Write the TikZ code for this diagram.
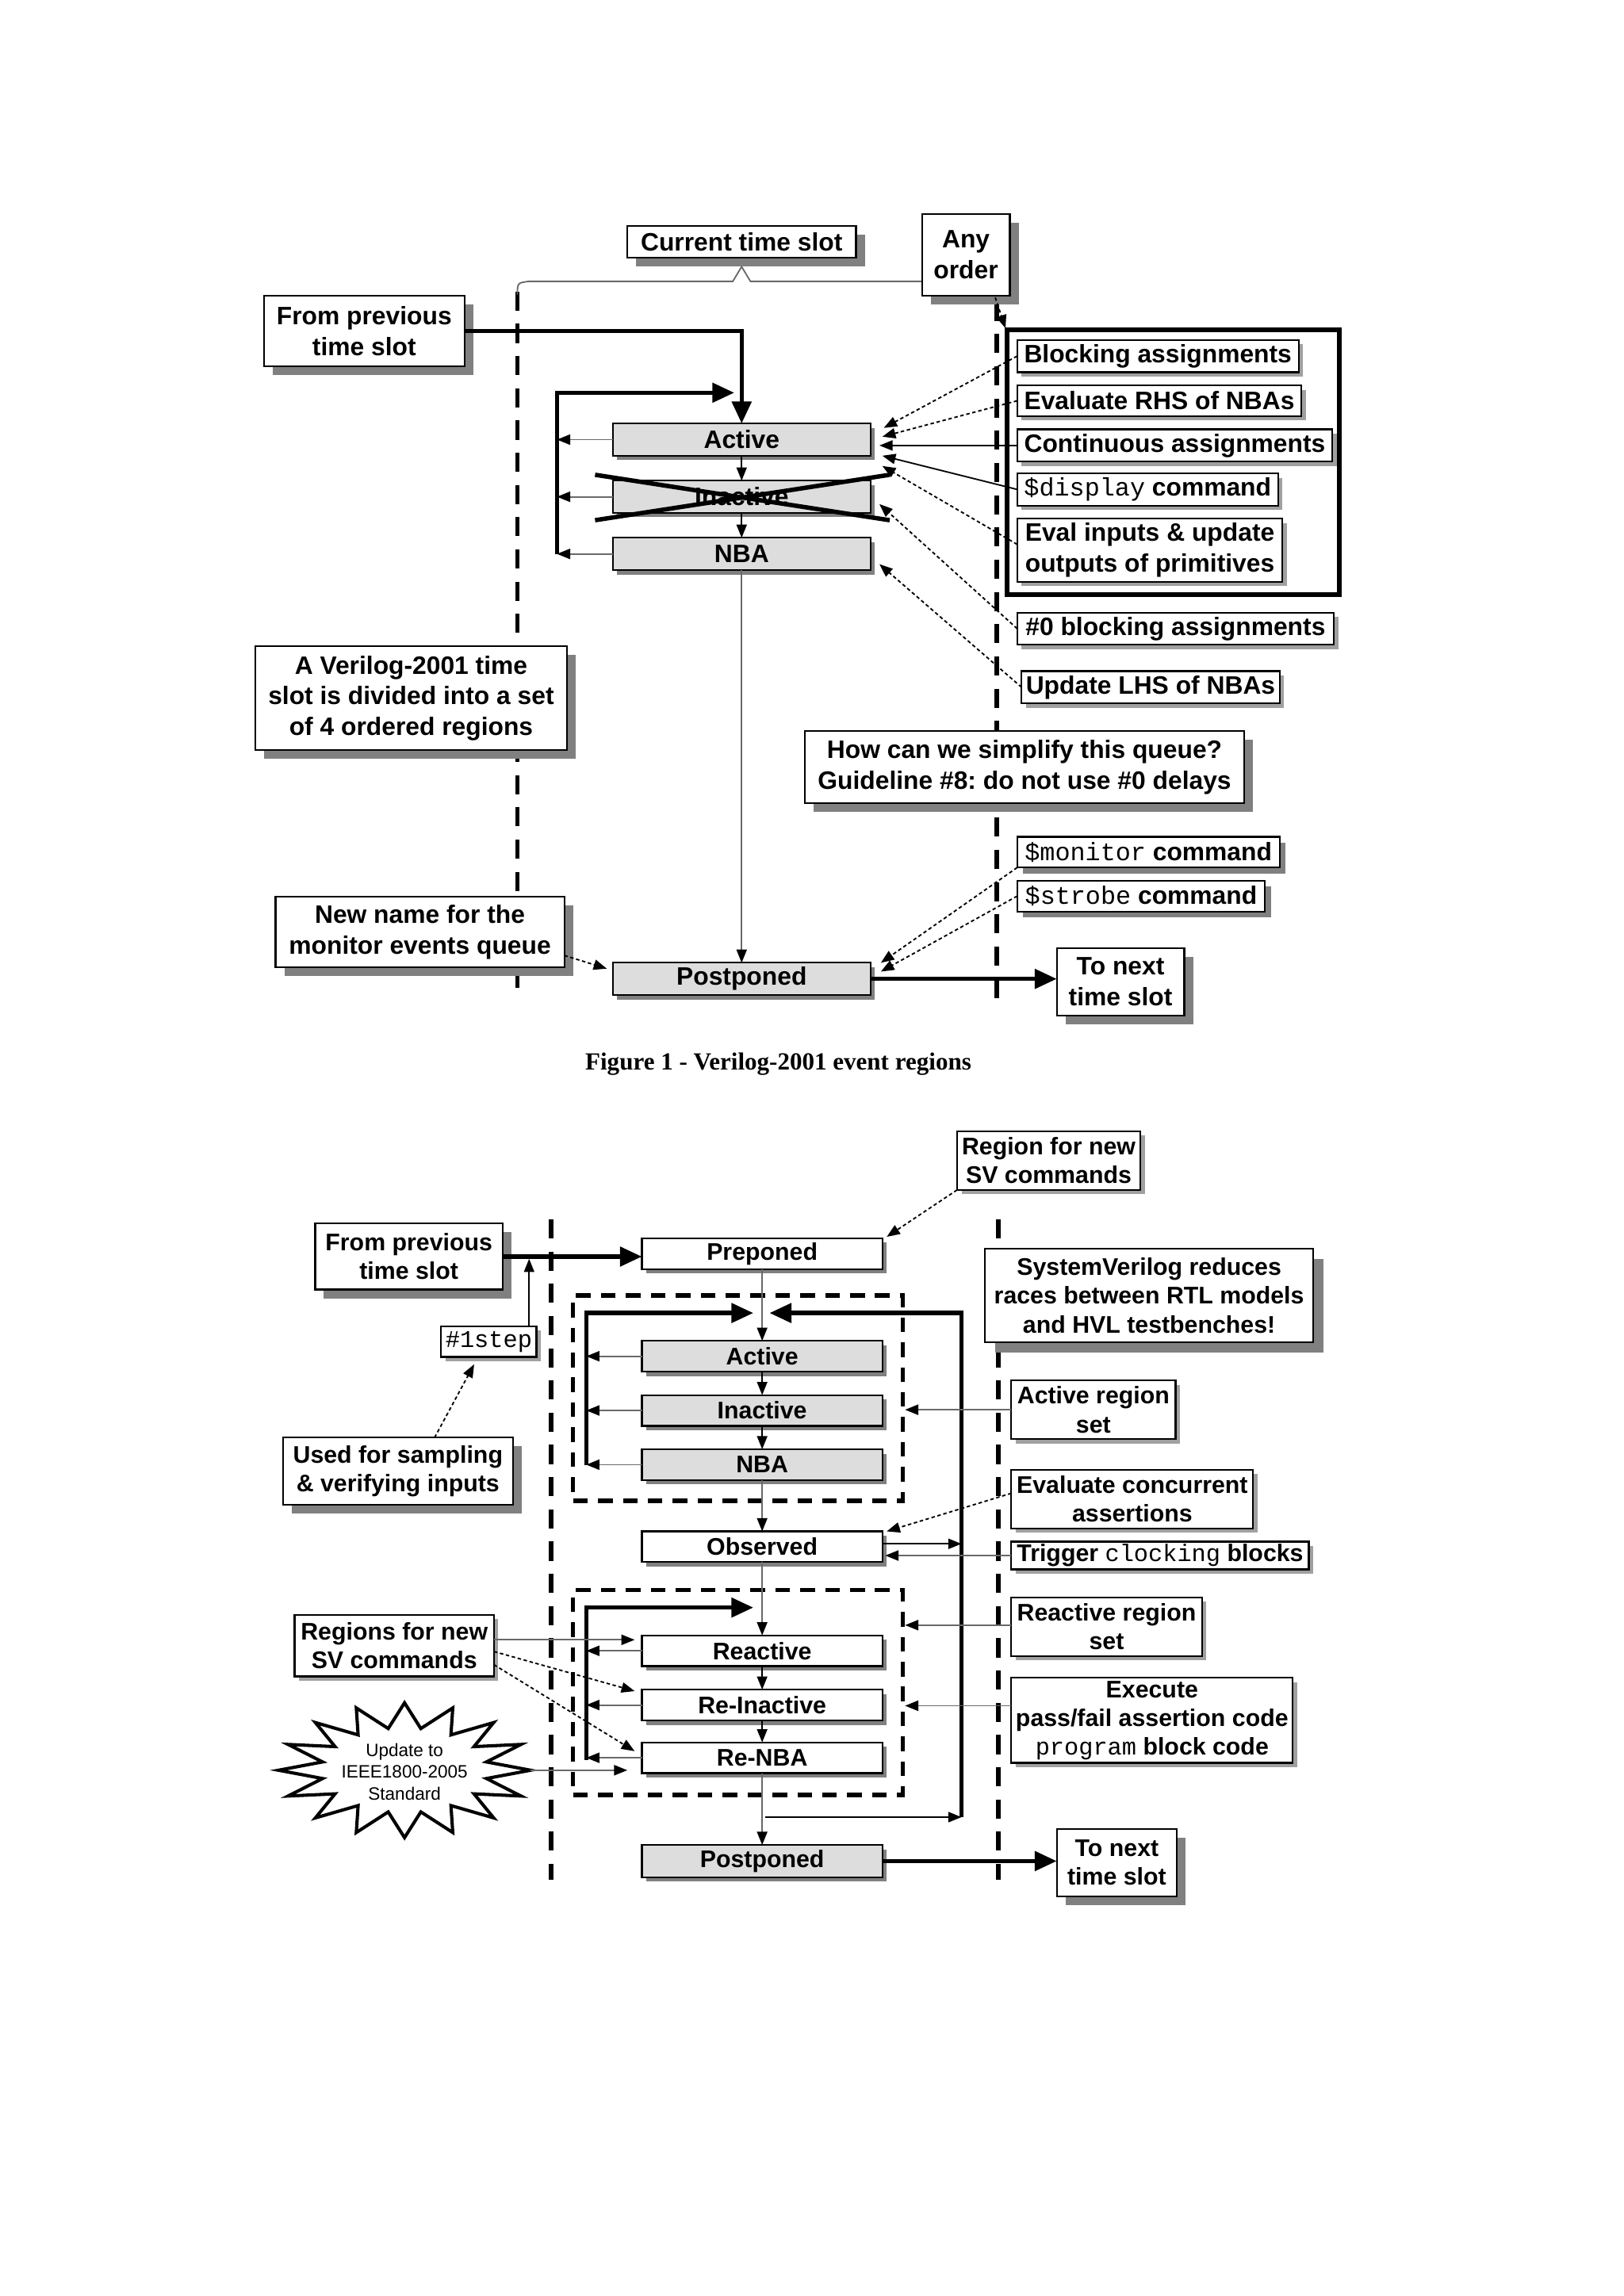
\documentclass[tikz,border=0pt]{standalone}
\usepackage{fontspec}
\setmainfont{Liberation Sans}
\newfontfamily\mono{Liberation Mono}
\newfontfamily\serifcap{Liberation Serif}
\usetikzlibrary{arrows.meta,fit,calc}
\frenchspacing
\definecolor{regfill}{RGB}{221,221,221}
\definecolor{shdark}{RGB}{128,128,128}
\definecolor{shlight}{RGB}{160,160,160}
\definecolor{lgray}{RGB}{105,105,105}
\newcommand\fa{\fontsize{8.6}{10.5}\selectfont\bfseries}
\newcommand\fb{\fontsize{8.2}{9.8}\selectfont\bfseries}
\newcommand\mt[1]{{\mono\mdseries #1}}
% style, shadow offset, shadow colour, name, x1, y1, x2, y2, text
\newcommand\bx[9]{%
  \fill[#3] (#5+#2,#6+#2) rectangle (#7+#2,#8+#2);
  \pgfmathsetmacro\bxw{(#7-#5)*0.5}%
  \pgfmathsetmacro\bxh{(#8-#6)*0.5}%
  \node[#1, minimum width=\bxw pt, minimum height=\bxh pt] (#4) at ({(#5+#7)/2},{(#6+#8)/2}) {#9};
}
\tikzset{
  bxs/.style={draw, line width=0.6pt, fill=white, inner sep=0pt, outer sep=0pt, align=center},
  ta/.style={bxs, font=\fa},
  tr/.style={ta, fill=regfill},
  tb/.style={bxs, font=\fb},
  rb/.style={tb, fill=regfill},
  big/.style={line width=1.5pt, -{Triangle[length=7.5pt,width=6.5pt]}},
  sm/.style={line width=0.5pt, -{Triangle[length=4.5pt,width=3.5pt]}},
  smg/.style={line width=0.5pt, lgray, -{Triangle[length=4.5pt,width=3.5pt,color=black]}},
  dt/.style={sm, dash pattern=on 1.2pt off 0.9pt},
  vd/.style={line width=1.6pt, dash pattern=on 6.5pt off 4.5pt},
  rd/.style={line width=1.5pt, dash pattern=on 5pt off 3.5pt},
}
\begin{document}
\begin{tikzpicture}[x=0.5pt,y=-0.5pt]
\useasboundingbox (0,0) rectangle (1108,1566.8);
% ================= TOP FIGURE =================
\draw[vd] (353,199) -- (353,681);
\draw[vd] (680,206) -- (680,681);
\draw[line width=0.5pt, lgray] (353,201) .. controls (353,193) .. (361,192) -- (500,192) -- (506,182) -- (512,192) -- (629,192);

\bx{ta}{6}{shdark}{cts}{428}{154}{584}{176}{Current time slot}
\bx{ta}{6}{shdark}{anyo}{629}{146}{689}{202}{Any\\order}
\bx{ta}{6}{shdark}{fprev}{180}{202}{317}{250}{From previous\\time slot}

\node[draw, line width=1.6pt, inner sep=0pt, fit={(687,225) (914,406)}] (anyset) {};
\bx{ta}{3}{shlight}{blk}{694}{232}{886}{254}{Blocking assignments}
\bx{ta}{3}{shlight}{rhs}{694}{263}{888}{284}{Evaluate RHS of NBAs}
\bx{ta}{3}{shlight}{cont}{694}{293}{909}{315}{Continuous assignments}
\bx{ta}{3}{shlight}{disp}{694}{323}{872}{345}{\mt{\$display} command}
\bx{ta,align=left}{3}{shlight}{evin}{694}{354}{875}{397}{Eval inputs \& update\\outputs of primitives}
\bx{ta}{3}{shlight}{zero}{694}{418}{910}{440}{\#0 blocking assignments}
\bx{ta}{3}{shlight}{lhs}{697}{458}{873}{480}{Update LHS of NBAs}

\bx{tr}{3}{shdark}{act1}{418}{289}{594}{311}{Active}
\bx{tr}{3}{shdark}{inact1}{418}{328}{594}{350}{Inactive}
\bx{tr}{3}{shdark}{nba1}{418}{367}{594}{389}{NBA}
\bx{tr}{3}{shdark}{post1}{418}{657}{594}{679}{Postponed}
\bx{ta}{6}{shdark}{tnext1}{721}{647}{808}{693}{To next\\time slot}

\bx{ta}{6}{shdark}{v2001}{174}{441}{387}{512}{A Verilog-2001 time\\slot is divided into a set\\of 4 ordered regions}
\bx{ta}{6}{shdark}{how}{549}{499}{849}{548}{How can we simplify this queue?\\Guideline \#8: do not use \#0 delays}
\bx{ta}{4}{shdark}{mon}{694}{571}{873}{592}{\mt{\$monitor} command}
\bx{ta}{4}{shdark}{strb}{694}{601}{863}{622}{\mt{\$strobe} command}
\bx{ta}{6}{shdark}{newn}{188}{612}{385}{660}{New name for the\\monitor events queue}

% connectors top
\draw[big] (fprev.east) -| (act1.north);
\coordinate (l1b) at (380,378);
\coordinate (l1t) at (501,268);
\draw[big] (l1b) |- (l1t);
\draw[smg] (act1.west) -- (act1.west -| l1b);
\draw[smg] (inact1.west) -- (inact1.west -| l1b);
\draw[smg] (nba1.west) -- (nba1.west -| l1b);
\draw[sm] (act1.south) -- (inact1.north);
\draw[sm] (inact1.south) -- (nba1.north);
\draw[smg] (nba1.south) -- (post1.north);
\draw[line width=1.5pt] (406,324) -- (607,355);
\draw[line width=1.5pt] (406,355) -- (607,324);
\draw[big] (post1.east) -- (post1.east -| tnext1.west);
\draw[dt] (blk.west) -- (603,292);
\draw[dt] (rhs.west) -- (602,298);
\draw[sm] (cont.west) -- (600,304);
\draw[sm] (disp.west) -- (602,311);
\draw[dt] ($(evin.west)+(0,-4)$) -- (602,318);
\draw[dt] (zero.west) -- (600,344);
\draw[dt] (lhs.west) -- (600,385);
\draw[dt] (mon.south west) -- (601,657);
\draw[dt] (strb.west) -- (601,663);
\draw[dt] ($(newn.south east)+(0,-8)$) -- (414,661);
\draw[dt] ($(anyo.south east)+(-10,1)$) -- (686,224);

\node[font=\serifcap\bfseries\fontsize{8.4}{10}\selectfont] (cap1) at (531,726) {Figure 1 - Verilog-2001 event regions};

% ================= BOTTOM FIGURE =================
\draw[vd] (376,832) -- (376,1283);
\draw[vd] (681,832) -- (681,1283);

\bx{tb}{3}{shlight}{regn}{653}{772}{778}{812}{Region for new\\SV commands}
\bx{tb}{6}{shdark}{fprev2}{215}{835}{343}{880}{From previous\\time slot}
\bx{tb}{3}{shdark}{prep}{438}{845}{602}{866}{Preponed}
\bx{tb,font=\fontsize{8.2}{9.8}\selectfont\mono}{3}{shlight}{onestep}{301}{905}{366}{926}{\#1step}
\bx{tb}{6}{shdark}{used}{193}{981}{350}{1027}{Used for sampling\\\& verifying inputs}
\bx{tb}{7}{shdark}{svr}{672}{852}{896}{916}{SystemVerilog reduces\\races between RTL models\\and HVL testbenches!}

\node[draw, rd, inner sep=0pt, fit={(391,884) (616,1024)}] (rs1) {};
\node[draw, rd, inner sep=0pt, fit={(391,1085) (616,1225)}] (rs2) {};

\bx{rb}{3}{shdark}{act2}{438}{915}{602}{936}{Active}
\bx{rb}{3}{shdark}{inact2}{438}{952}{602}{973}{Inactive}
\bx{rb}{3}{shdark}{nba2}{438}{989}{602}{1010}{NBA}
\bx{tb}{3}{shdark}{obs}{438}{1045}{602}{1066}{Observed}
\bx{tb}{3}{shdark}{react}{438}{1116}{602}{1137}{Reactive}
\bx{tb}{3}{shdark}{reinact}{438}{1153}{602}{1174}{Re-Inactive}
\bx{tb}{3}{shdark}{renba}{438}{1189}{602}{1210}{Re-NBA}
\bx{rb}{3}{shdark}{post2}{438}{1259}{602}{1281}{Postponed}

\bx{tb}{3}{shlight}{ars}{690}{942}{802}{982}{Active region\\set}
\bx{tb}{3}{shlight}{eca}{690}{1003}{855}{1043}{Evaluate concurrent\\assertions}
\bx{tb}{3}{shlight}{trig}{690}{1052}{893}{1071}{Trigger \mt{clocking} blocks}
\bx{tb}{3}{shlight}{rrs}{690}{1090}{820}{1130}{Reactive region\\set}
\bx{tb}{3}{shlight}{exe}{690}{1145}{882}{1203}{Execute\\pass/fail assertion code\\\mt{program} block code}
\bx{tb}{3}{shlight}{rnew}{201}{1102}{337}{1144}{Regions for new\\SV commands}
\bx{tb}{6}{shdark}{tnext2}{721}{1248}{803}{1294}{To next\\time slot}

% starburst
\draw[line width=1.1pt, fill=white] plot[variable=\t, samples at={0,...,31}]
  ({276+ifthenelse(mod(\t,2)==0,86,57)*cos(\t*11.25)}, {1208-ifthenelse(mod(\t,2)==0,46,29)*sin(\t*11.25)}) -- cycle;
\node[font=\fontsize{6.1}{7.5}\selectfont, align=center, inner sep=0pt] (std) at (276,1209) {Update to\\IEEE1800-2005\\Standard};
\coordinate (startip) at (362,1208);

% connectors bottom
\draw[big] (fprev2.east) -- (fprev2.east -| prep.west);
\draw[sm] ($(onestep.north east)+(-5,0)$) -- ++(0,-46);
\draw[dt] ($(used.north)+(25,0)$) -- ($(onestep.south)+(-10,5)$);
\draw[dt] (regn.south west) -- ($(prep.north east)+(3,-1)$);
\draw[smg] (prep.south) -- (act2.north);
\draw[sm] (act2.south) -- (inact2.north);
\draw[sm] (inact2.south) -- (nba2.north);
\draw[smg] (nba2.south) -- (obs.north);
\draw[smg] (obs.south) -- (react.north);
\draw[sm] (react.south) -- (reinact.north);
\draw[sm] (reinact.south) -- (renba.north);
\draw[smg] (renba.south) -- (post2.north);

\coordinate (l2b) at (400,1000);
\coordinate (l2t) at (514,896);
\draw[big] (l2b) |- (l2t);
\draw[smg] (act2.west) -- (act2.west -| l2b);
\draw[smg] (inact2.west) -- (inact2.west -| l2b);
\draw[smg] (nba2.west) -- (nba2.west -| l2b);
\coordinate (l3b) at (400,1201);
\coordinate (l3t) at (514,1097);
\draw[big] (l3b) |- (l3t);
\draw[smg] (react.west) -- (react.west -| l3b);
\draw[smg] (reinact.west) -- (reinact.west -| l3b);
\draw[smg] (renba.west) -- (renba.west -| l3b);

\coordinate (rl1) at (656,1240);
\coordinate (rl2) at (525,896);
\coordinate (br) at (522,1240);
\draw[big] (rl1) |- (rl2);
\draw[sm] (br) -- (rl1);
\draw[sm] ($(obs.east)+(0,-2)$) -- ($(obs.east -| rl1)+(0,-2)$);
\draw[smg] (trig.west) -- ($(trig.west -| obs.east)+(2,0)$);
\draw[dt] ($(eca.west)+(0,-4)$) -- ($(obs.north east)+(3,0)$);
\draw[smg] (ars.west) -- (ars.west -| rs1.east);
\draw[smg] ($(rrs.west)+(0,-1)$) -- ($(rrs.west -| rs2.east)+(0,-1)$);
\draw[smg] ($(exe.west)+(0,-10)$) -- ($(exe.west -| rs2.east)+(0,-10)$);
\draw[big] (post2.east) -- (post2.east -| tnext2.west);

\draw[smg] ($(rnew.east)+(0,-4)$) -- (433,1119);
\draw[dt] ($(rnew.east)+(0,4)$) -- (433,1154);
\draw[dt] ($(rnew.east)+(0,13)$) -- (433,1195);
\draw[smg] (startip) -- (428,1208);
\end{tikzpicture}
\end{document}
